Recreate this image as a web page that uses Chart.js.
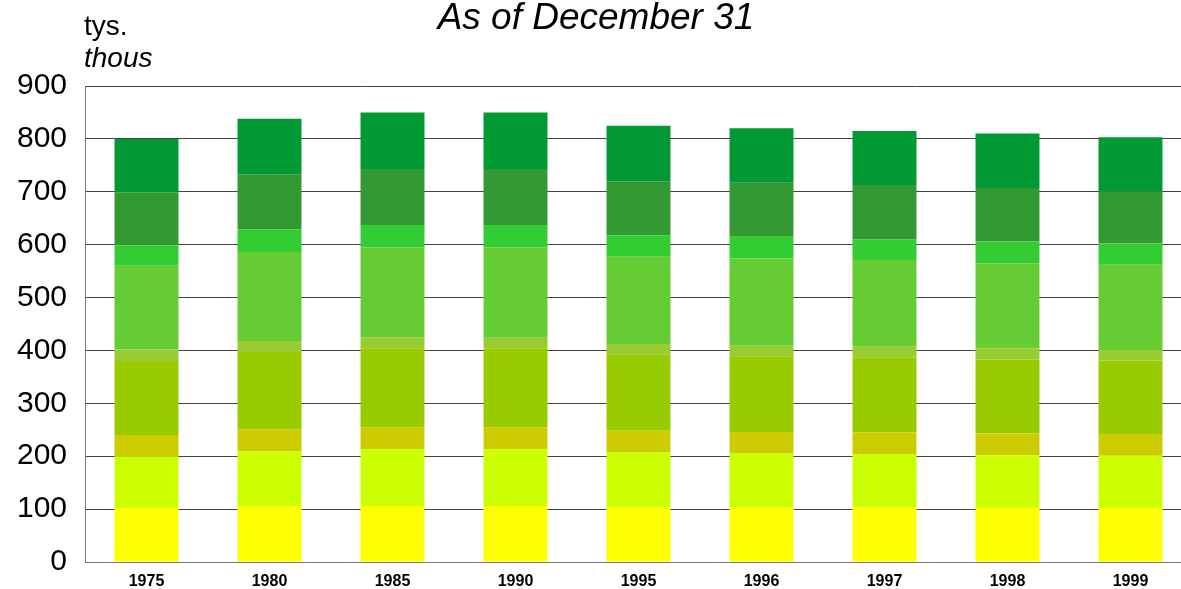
<!DOCTYPE html>
<html>
<head>
<meta charset="utf-8">
<script src="https://cdn.jsdelivr.net/npm/chart.js@4/dist/chart.umd.min.js"></script>
<style>
  html, body { margin: 0; padding: 0; background: #fff; overflow: hidden; }
  #wrap { width: 1192px; height: 589px; position: relative; }
</style>
</head>
<body>
<div id="wrap"><canvas id="chart"></canvas></div>
<script>
// Dane
const years = ['1975', '1980', '1985', '1990', '1995', '1996', '1997', '1998', '1999'];
const yTicks = [0, 100, 200, 300, 400, 500, 600, 700, 800, 900];

const seg1 = [102, 105, 106, 106, 103, 103, 103, 102, 102];
const seg2 = [98, 104, 107, 107, 104, 102, 101, 100, 99];
const seg3 = [40, 42, 42, 42, 41, 41, 41, 41, 41];
const seg4 = [140, 146, 149, 149, 144, 143, 142, 140, 139];
const seg5 = [22, 21, 21, 20, 20, 20, 20, 21, 20];
const seg6 = [158, 168, 170, 171, 165, 165, 164, 161, 161];
const seg7 = [39, 43, 42, 42, 41, 41, 39, 41, 40];
const seg8 = [100, 104, 106, 106, 102, 102, 103, 101, 99];
const seg9 = [101, 105, 107, 107, 105, 103, 102, 103, 102];

const series = [seg1, seg2, seg3, seg4, seg5, seg6, seg7, seg8, seg9];
const colors = ['#ffff00', '#ccff00', '#cccc00', '#99cc00', '#99cc33', '#66cc33', '#33cc33', '#339933', '#009933'];

const FONT = '"Liberation Sans", Arial, sans-serif';

// Opis jednostek nad osią Y
const unitLabel = {
    id: 'unitLabel',
    afterDraw(chart) {
        const c = chart.ctx;
        c.save();
        c.fillStyle = '#000';
        c.textAlign = 'left';
        c.textBaseline = 'alphabetic';
        c.font = '28px ' + FONT;
        c.fillText('tys.', 84, 35);
        c.font = 'italic 28px ' + FONT;
        c.fillText('thous', 84, 67);
        c.restore();
    }
};

const ctx = document.getElementById('chart').getContext('2d');
const chart = new Chart(ctx, {
    type: 'bar',
    data: {
        labels: years,
        datasets: series.map((d, i) => ({
            label: 'seg' + (i + 1),
            data: d,
            backgroundColor: colors[i],
            borderWidth: 0,
            categoryPercentage: 1,
            barPercentage: 0.52
        }))
    },
    options: {
        responsive: true,
        maintainAspectRatio: false,
        animation: false,
        layout: { padding: 0 },
        plugins: {
            legend: { display: false },
            tooltip: { enabled: false },
            title: {
                display: true,
                text: 'As of December 31',
                color: '#000',
                font: { family: FONT, size: 37, style: 'italic', weight: 'normal', lineHeight: 1 },
                padding: { top: 0, bottom: 49 }
            }
        },
        scales: {
            x: {
                stacked: true,
                grid: { display: false },
                border: { display: true, color: '#777', width: 1 },
                ticks: {
                    color: '#000',
                    font: { family: FONT, size: 16, weight: 'bold' },
                    padding: 2,
                    maxRotation: 0
                },
                afterFit(scale) { scale.height = 27; }
            },
            y: {
                stacked: true,
                min: 0,
                max: 900,
                afterBuildTicks(scale) { scale.ticks = yTicks.map(v => ({ value: v })); },
                grid: { color: '#444', lineWidth: 1, drawTicks: true, tickLength: 18, tickColor: 'rgba(0,0,0,0)' },
                border: { display: true, color: '#777', width: 1 },
                ticks: {
                    color: '#000',
                    font: { family: FONT, size: 30 },
                    padding: 0
                },
                afterFit(scale) { scale.width = 85; }
            }
        }
    },
    plugins: [unitLabel]
});
</script>
</body>
</html>
